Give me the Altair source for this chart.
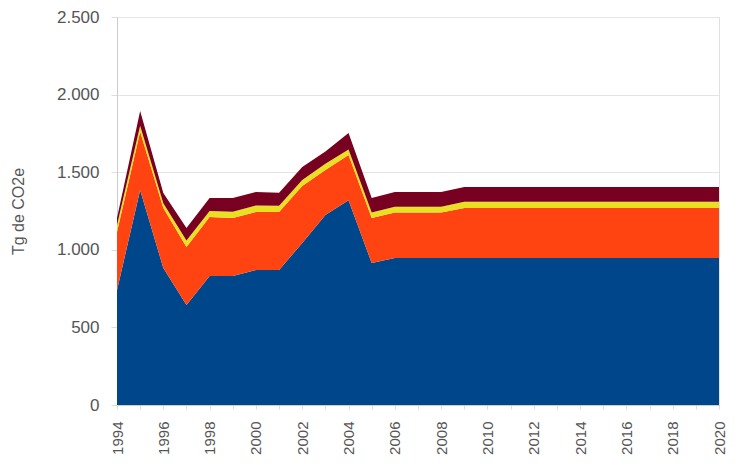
import altair as alt
import pandas as pd

years = list(range(1994, 2021))
blue = [740, 1385, 883, 644, 831, 831, 870, 870, 1044, 1224, 1320, 915,
        947, 947, 947] + [947] * 12
orange = [375, 375, 386, 374, 380, 374, 374, 374, 367, 290, 291, 290,
          293, 293, 293] + [322] * 12
yellow = [45, 40, 31, 42, 39, 40, 41, 40, 39, 40, 35, 35,
          38, 38, 38] + [41] * 12
maroon = [45, 95, 66, 80, 84, 89, 87, 83, 83, 80, 107, 94,
          94, 94, 94] + [95] * 12

series = ["A", "B", "C", "D"]
colors = ["#00468B", "#FF4411", "#E8E020", "#780020"]

rows = []
for i, (name, vals) in enumerate(zip(series, [blue, orange, yellow, maroon])):
    for y, v in zip(years, vals):
        rows.append({"year": y, "serie": name, "valor": v, "orden": i})
df = pd.DataFrame(rows)

chart = alt.Chart(df).mark_area(opacity=1, strokeWidth=0).encode(
    x=alt.X("year:Q",
            scale=alt.Scale(domain=[1994, 2020], nice=False, zero=False),
            axis=alt.Axis(values=years, grid=False, title=None,
                          labelExpr="datum.value % 2 == 0 ? datum.value : ''",
                          labelAngle=270, labelAlign="right", labelBaseline="middle",
                          labelFontSize=15, labelColor="#555555", labelFont="Liberation Sans",
                          tickSize=4, tickColor="#DDDDDD", domainColor="#CCCCCC",
                          labelPadding=12, labelFlush=False, labelOverlap=False)),
    y=alt.Y("valor:Q", stack="zero",
            scale=alt.Scale(domain=[0, 2500], nice=False),
            axis=alt.Axis(values=[0, 500, 1000, 1500, 2000, 2500],
                          labelExpr="replace(format(datum.value, ','), ',', '.')",
                          title="Tg de CO2e", titleFontSize=16, titleFontWeight="normal",
                          titleColor="#555555", titleFont="Liberation Sans",
                          titlePadding=30,
                          labelFontSize=17, labelColor="#555555", labelFont="Liberation Sans",
                          tickSize=6, tickColor="#DDDDDD", domainColor="#CCCCCC",
                          gridColor="#E4E4E4", labelPadding=12)),
    color=alt.Color("serie:N", scale=alt.Scale(domain=series, range=colors), legend=None),
    order=alt.Order("orden:Q"),
).properties(width=602, height=388,
             padding={"left": 2, "top": 0, "right": 0, "bottom": 0}
).configure_view(stroke="#E0E0E0")

chart.save("out.html", embed_options={"renderer": "svg", "actions": False})
